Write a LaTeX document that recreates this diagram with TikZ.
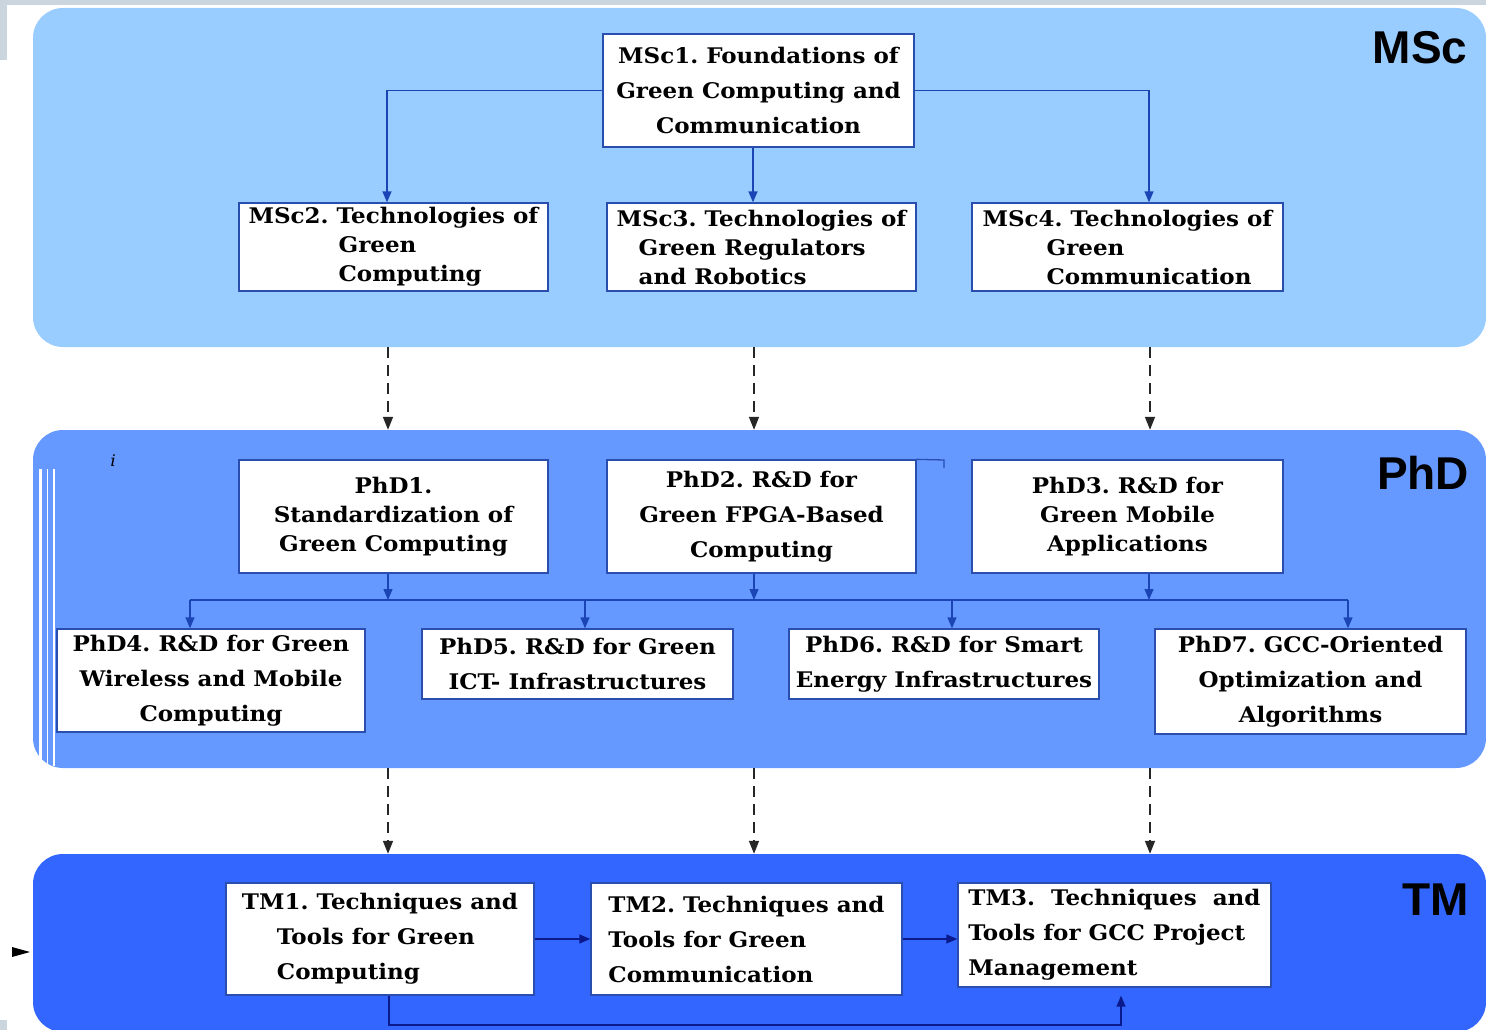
\documentclass[tikz,border=0pt]{standalone}
\usepackage{fontspec}
\setmainfont{DejaVu Serif}[FakeStretch=1.07]
\newfontfamily\tagfont{Liberation Sans}
\usetikzlibrary{arrows.meta}
\frenchspacing

\definecolor{mscbg}{HTML}{99CCFF}
\definecolor{phdbg}{HTML}{6699FF}
\definecolor{tmbg}{HTML}{3366FF}
\definecolor{framegray}{HTML}{CBD5DE}
\definecolor{boxline}{HTML}{2A4DB0}
\definecolor{linkblue}{HTML}{1B45B5}
\definecolor{linknavy}{HTML}{0A1A8C}

\tikzset{
  panel/.style={rounded corners=30pt, draw=none, inner sep=0pt},
  box/.style={draw=boxline, line width=1.3pt, fill=white, inner sep=0pt,
    font=\bfseries\fontsize{21.5}{35}\selectfont, align=center},
  tightbox/.style={box, font=\bfseries\fontsize{21.5}{29}\selectfont},
  tag/.style={font=\tagfont\bfseries\fontsize{46}{46}\selectfont, inner sep=0pt},
  arr/.style={draw=linkblue, line width=1.3pt, -{Triangle[length=11pt,width=9pt]}},
  bus/.style={draw=linkblue, line width=1.3pt},
  navyarr/.style={draw=linknavy, line width=1.3pt, -{Triangle[length=11pt,width=9pt]}},
  dasharr/.style={draw=black!85, line width=1.5pt, dash pattern=on 11pt off 7pt,
    -{Triangle[length=13pt,width=10pt]}}
}

\begin{document}
\begin{tikzpicture}[x=1pt, y=-1pt]
\useasboundingbox (0,0) rectangle (1486,1030);
\clip (0,0) rectangle (1486,1030);

% frame remnants
\fill[framegray] (0,0) rectangle (1486,5);
\fill[framegray] (0,0) rectangle (7,60);
\fill[framegray] (0,1020) rectangle (7,1030);

% level panels
\node[panel, fill=mscbg, minimum width=1453pt, minimum height=339pt] (msc) at (759.5,177.5) {};
\node[panel, fill=phdbg, minimum width=1453pt, minimum height=338pt] (phd) at (759.5,599) {};
\node[panel, fill=tmbg, minimum width=1453pt, minimum height=178pt] (tm) at (759.5,943) {};

% light streaks on the PhD panel
\draw[white, line width=3pt] (40,469) -- (40,766);
\draw[white, line width=1.2pt] (47.5,469) -- (47.5,766);
\draw[white, line width=1.2pt] (54,469) -- (54,766);
\node[font=\itshape\fontsize{16}{16}\selectfont, inner sep=0pt] (imark) at (113,461) {i};

% level tags
\node[tag] (tmsc) at (1420,48) {MSc};
\node[tag] (tphd) at (1423,473) {PhD};
\node[tag] (ttm) at (1436,900) {TM};

% MSc boxes
\node[box, minimum width=311pt, minimum height=113pt] (m1) at (758.5,90.5)
  {MSc1. Foundations of\\Green Computing and\\Communication};
\node[tightbox, minimum width=309pt, minimum height=88pt, align=left] (m2) at (393.5,247)
  {MSc2. Technologies of\\\hspace*{90pt}Green\\\hspace*{90pt}Computing};
\node[tightbox, minimum width=309pt, minimum height=88pt, align=left] (m3) at (761.5,247)
  {MSc3. Technologies of\\\hspace*{22pt}Green Regulators\\\hspace*{22pt}and Robotics};
\node[tightbox, minimum width=311pt, minimum height=88pt, align=left] (m4) at (1127.5,247)
  {MSc4. Technologies of\\\hspace*{64pt}Green\\\hspace*{64pt}Communication};

% PhD boxes
\node[tightbox, minimum width=309pt, minimum height=113pt] (p1) at (393.5,516.5)
  {PhD1.\\Standardization of\\Green Computing};
\node[box, minimum width=309pt, minimum height=113pt] (p2) at (761.5,516.5)
  {PhD2. R\&D for\\Green FPGA-Based\\Computing};
\node[tightbox, minimum width=311pt, minimum height=113pt] (p3) at (1127.5,516.5)
  {PhD3. R\&D for\\Green Mobile\\Applications};
\draw[boxline, line width=1.3pt] (p2.north east) -- (944,460) -- (944,468);

\node[box, minimum width=308pt, minimum height=103pt] (p4) at (211,680.5)
  {PhD4. R\&D for Green\\Wireless and Mobile\\Computing};
\node[box, minimum width=311pt, minimum height=70pt] (p5) at (577.5,664)
  {PhD5. R\&D for Green\\ICT- Infrastructures};
\node[box, minimum width=310pt, minimum height=70pt] (p6) at (944,664)
  {PhD6. R\&D for Smart\\Energy Infrastructures};
\node[box, minimum width=311pt, minimum height=105pt] (p7) at (1310.5,681.5)
  {PhD7. GCC-Oriented\\Optimization and\\Algorithms};

% TM boxes
\node[box, minimum width=308pt, minimum height=112pt, align=left] (t1) at (380,939)
  {TM1. Techniques and\\\hspace*{35pt}Tools for Green\\\hspace*{35pt}Computing};
\node[box, minimum width=311pt, minimum height=112pt, align=left] (t2) at (746.5,939)
  {TM2. Techniques and\\Tools for Green\\Communication};
\node[box, minimum width=313pt, minimum height=104pt, align=left] (t3) at (1114.5,935)
  {TM3.\ \ Techniques\ \ and\\Tools for GCC Project\\Management};

% column positions of the links
\coordinate (c387) at (387,0);
\coordinate (c388) at (388,0);
\coordinate (c753) at (753,0);
\coordinate (c754) at (754,0);
\coordinate (c1149) at (1149,0);
\coordinate (c1150) at (1150,0);
\coordinate (busL) at (190,600);
\coordinate (busR) at (1348,600);
\coordinate (b585) at (585,600);
\coordinate (b952) at (952,600);
\coordinate (lb) at (389,1025);
\coordinate (rb) at (1121,1025);

% MSc links
\draw[arr] (m1.west) -| (m2.north -| c387);
\draw[arr] (m1.south -| c753) -- (m3.north -| c753);
\draw[arr] (m1.east) -| (m4.north -| c1149);

% level-to-level links
\draw[dasharr] (msc.south -| c388) -- (phd.north -| c388);
\draw[dasharr] (msc.south -| c754) -- (phd.north -| c754);
\draw[dasharr] (msc.south -| c1150) -- (phd.north -| c1150);
\draw[dasharr] (phd.south -| c388) -- (tm.north -| c388);
\draw[dasharr] (phd.south -| c754) -- (tm.north -| c754);
\draw[dasharr] (phd.south -| c1150) -- (tm.north -| c1150);

% PhD links
\draw[bus] (busL) -- (busR);
\draw[arr] (p1.south -| c388) -- (busL -| c388);
\draw[arr] (p2.south -| c754) -- (busL -| c754);
\draw[arr] (p3.south -| c1149) -- (busL -| c1149);
\draw[arr] (busL) -- (p4.north -| busL);
\draw[arr] (b585) -- (p5.north -| b585);
\draw[arr] (b952) -- (p6.north -| b952);
\draw[arr] (busR) -- (p7.north -| busR);

% TM links
\draw[navyarr] (t1.east) -- (t2.west);
\draw[navyarr] (t2.east) -- (t2.east -| t3.west);
\draw[navyarr] (t1.south -| lb) -- (lb) -- (rb) -- ([yshift=-8pt]t3.south -| rb);

% entry marker
\fill[black] (12,947) -- (30,952) -- (12,957) -- cycle;
\end{tikzpicture}
\end{document}
